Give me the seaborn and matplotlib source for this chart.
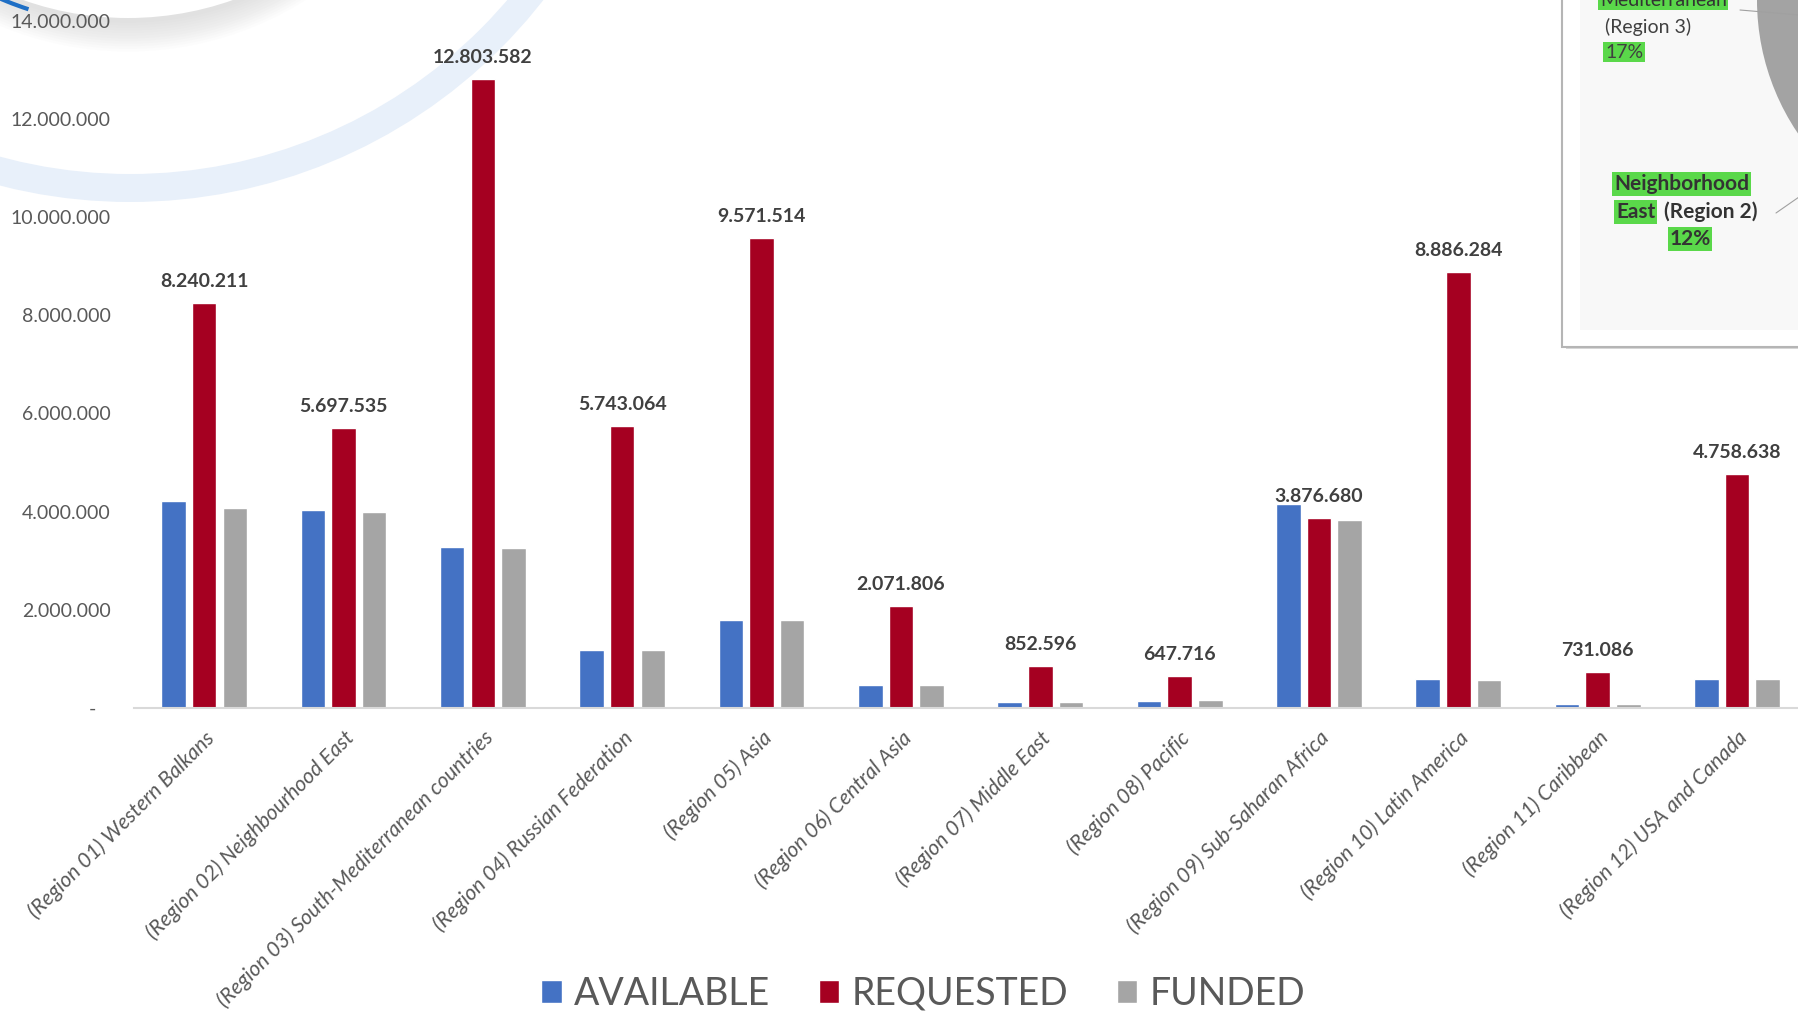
import numpy as np
import pandas as pd
import matplotlib
matplotlib.use('Agg')
import matplotlib.pyplot as plt
import seaborn as sns
from matplotlib.patches import Circle, Rectangle, Arc

# Datos
regions = ['(Region 01) Western Balkans', '(Region 02) Neighbourhood East',
           '(Region 03) South-Mediterranean countries', '(Region 04) Russian Federation',
           '(Region 05) Asia', '(Region 06) Central Asia', '(Region 07) Middle East',
           '(Region 08) Pacific', '(Region 09) Sub-Saharan Africa', '(Region 10) Latin America',
           '(Region 11) Caribbean', '(Region 12) USA and Canada']
available = [4210000, 4030000, 3270000, 1180000, 1790000, 460000,
             120000, 140000, 4150000, 600000, 90000, 600000]
requested = [8240211, 5697535, 12803582, 5743064, 9571514, 2071806,
             852596, 647716, 3876680, 8886284, 731086, 4758638]
funded = [4080000, 3990000, 3250000, 1180000, 1790000, 460000,
          120000, 170000, 3820000, 570000, 90000, 600000]
series = ['AVAILABLE', 'REQUESTED', 'FUNDED']
colors = ['#4472C4', '#A50021', '#A5A5A5']
y_ticks = [0, 2000000, 4000000, 6000000, 8000000, 10000000, 12000000, 14000000]

df = pd.DataFrame({
    'region': regions * 3,
    'serie': np.repeat(series, len(regions)),
    'valor': available + requested + funded,
})

sns.set_theme(style='white')
plt.rcParams['font.family'] = ['Lato', 'DejaVu Sans']

W, H = 1799, 1013
fig = plt.figure(figsize=(W / 100, H / 100), dpi=100)

# Fondo decorativo (coordenadas en píxeles, y hacia abajo)
bg = fig.add_axes([0, 0, 1, 1], zorder=-1)
bg.set_xlim(0, W)
bg.set_ylim(H, 0)
bg.axis('off')
bg.add_patch(Circle((130, -322), 510, fill=False, lw=28 * 0.72, ec='#e8f0fa'))
for k in range(12):
    bg.add_patch(Circle((128, -292 + k), 315 + k * 1.6, fc='#9a9a9a', ec='none', alpha=0.025))
bg.add_patch(Circle((128, -297), 315, fc='white', ec='none'))
bg.add_patch(Arc((128, -297), 644, 644, theta1=108, theta2=116, lw=3, color='#1f6fc5'))

# Recuadro del gráfico circular (arriba a la derecha)
bg.add_patch(Rectangle((1566, -20), 300, 369, fc='#d8d8d8', ec='none'))
bg.add_patch(Rectangle((1562, -20), 300, 367, fc='white', ec='#b5b5b5', lw=1.5))
bg.add_patch(Rectangle((1580, -20), 300, 350, fc='#f8f8f8', ec='none'))
bg.add_patch(Circle((1995, 0), 238, fc='#a3a3a3', ec='none'))
bg.plot([1740, 1799], [10, 15], color='#a0a0a0', lw=0.8)
bg.plot([1776, 1799], [213, 197], color='#a0a0a0', lw=0.8)
green = '#5ad84a'
hl = dict(boxstyle='square,pad=0.08', fc=green, ec='none')
bg.text(1600, 0, 'Mediterranean', fontsize=14, color='#333333', va='center', bbox=hl)
bg.text(1605, 27, '(Region 3)', fontsize=14, color='#404040', va='center')
bg.text(1605, 52, '17%', fontsize=14, color='#404040', va='center', bbox=hl)
bg.text(1614, 184, 'Neighborhood', fontsize=15, fontweight='bold', color='#333333', va='center', bbox=hl)
bg.text(1616, 212, 'East', fontsize=15, fontweight='bold', color='#333333', va='center', bbox=hl)
bg.text(1664, 212, '(Region 2)', fontsize=15, fontweight='bold', color='#333333', va='center')
bg.text(1690, 239, '12%', fontsize=15, fontweight='bold', color='#333333', va='center', ha='center', bbox=hl)

# Gráfico de barras principal
ax = fig.add_axes([134.5 / W, 0.3011, 1672.2 / W, 0.6786])
ax.set_facecolor('none')
sns.barplot(data=df, x='region', y='valor', hue='serie', hue_order=series,
            palette=dict(zip(series, colors)), width=0.66, gap=0.2,
            saturation=1, ax=ax, legend=True)
ax.set_xlim(-0.5, len(regions) - 0.5)
ax.set_ylim(0, 14000000)

for i, v in enumerate(requested):
    ax.annotate(f'{v:,}'.replace(',', '.'), (i, v), xytext=(0, 15.5),
                textcoords='offset points', ha='center', va='center',
                fontsize=14, fontweight='bold', color='#404040')

ax.set_yticks(y_ticks)
ax.set_yticklabels(['-   '] + [f'{t:,}'.replace(',', '.') for t in y_ticks[1:]])
ax.tick_params(axis='y', length=0, pad=17, labelsize=14, labelcolor='#595959')
ax.set_xticks(range(len(regions)))
ax.set_xticklabels(regions, rotation=45, ha='right', rotation_mode='anchor',
                   fontsize=15.2, fontstyle='italic', color='#595959')
ax.tick_params(axis='x', length=0, pad=14)
ax.set_xlabel('')
ax.set_ylabel('')
for s in ['top', 'right', 'left']:
    ax.spines[s].set_visible(False)
ax.spines['bottom'].set_color('#d9d9d9')
ax.spines['bottom'].set_linewidth(1.5)

handles, labels = ax.get_legend_handles_labels()
ax.get_legend().remove()
fig.legend(handles, labels, loc='center', bbox_to_anchor=(0.513, 0.019), ncol=3,
           frameon=False, fontsize=27, labelcolor='#595959', handlelength=0.55,
           handleheight=0.55, handletextpad=0.32, columnspacing=1.3)

fig.savefig('out.png', dpi=100)
